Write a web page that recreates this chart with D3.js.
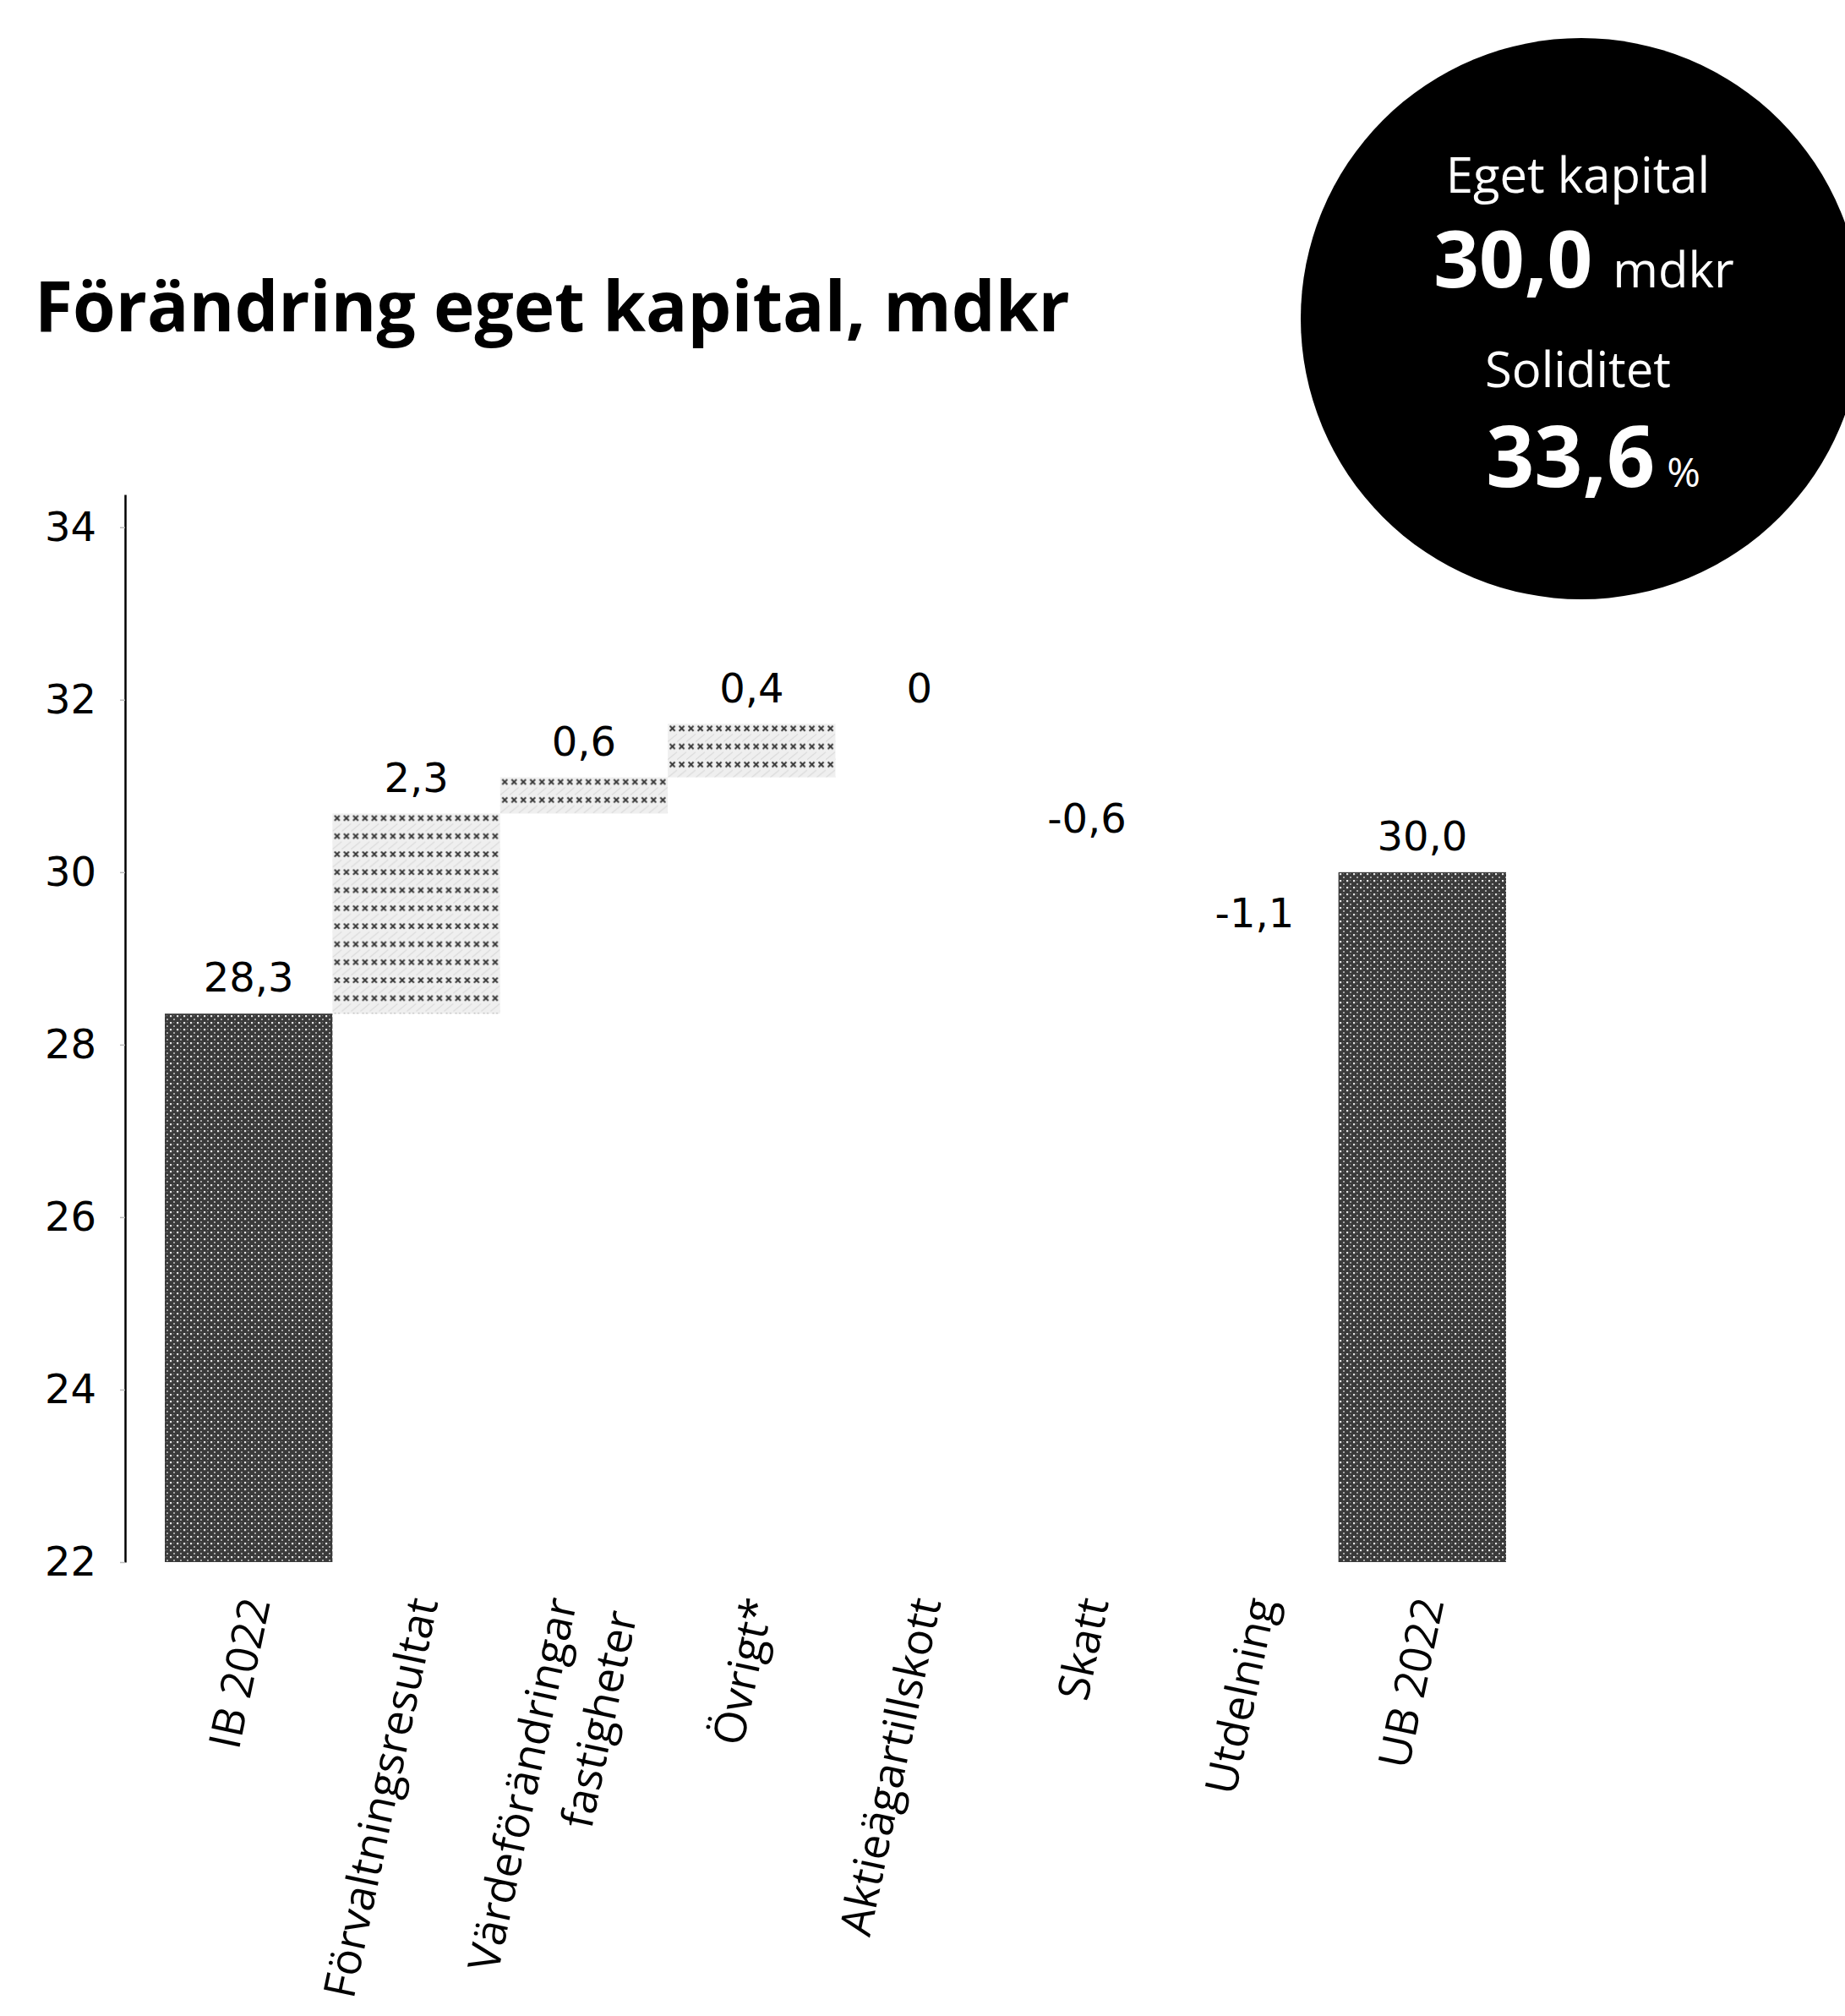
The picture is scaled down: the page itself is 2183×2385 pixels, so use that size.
<!DOCTYPE html>
<html>
<head>
<meta charset="utf-8">
<script src="https://cdn.jsdelivr.net/npm/d3@7"></script>
<style>
  html, body { margin: 0; padding: 0; background: #ffffff; }
  svg { display: block; }
</style>
</head>
<body>
<div id="chart"></div>
<script>
// ---- data ----
const categories = ["IB 2022", "Förvaltningsresultat", "Värdeförändringar|fastigheter", "Övrigt*", "Aktieägartillskott", "Skatt", "Utdelning", "UB 2022"];
const barValues = [28.36, 2.32, 0.42, 0.62, 0, -0.6, -1.1, 30.0];
const barKinds = ["total", "up", "up", "up", "up", "down", "down", "total"];
const valueLabels = ["28,3", "2,3", "0,6", "0,4", "0", "-0,6", "-1,1", "30,0"];
const yTicks = [22, 24, 26, 28, 30, 32, 34];
const yTickLabels = ["22", "24", "26", "28", "30", "32", "34"];
const titleText = "Förändring eget kapital, mdkr";
const badgeLines = { label1: "Eget kapital", value1: "30,0", unit1: "mdkr", label2: "Soliditet", value2: "33,6", unit2: "%" };

// ---- layout ----
const W = 2183, H = 2385;
const svg = d3.select("#chart").append("svg").attr("width", W).attr("height", H);

const y = d3.scaleLinear().domain([22, 34.38]).range([1848, 585]);
const x = d3.scaleBand().domain(categories).range([195, 1782]).padding(0);

// waterfall extents
let run = 0;
const bars = categories.map((c, i) => {
  const v = barValues[i];
  let lo, hi;
  if (barKinds[i] === "total") { lo = 22; hi = v; run = v; }
  else { const s = run; run = run + v; lo = Math.min(s, run); hi = Math.max(s, run); }
  return { cat: c, v, kind: barKinds[i], lo, hi, label: valueLabels[i], i };
});

// ---- patterns ----
const defs = svg.append("defs");
const dark = defs.append("pattern").attr("id", "darkPat").attr("patternUnits", "userSpaceOnUse")
  .attr("width", 8).attr("height", 8);
dark.append("rect").attr("width", 8).attr("height", 8).attr("fill", "#3a3a3a");
dark.append("rect").attr("x", 1).attr("y", 1).attr("width", 2.2).attr("height", 2.2).attr("fill", "#e6e6e6");
dark.append("rect").attr("x", 5).attr("y", 5).attr("width", 2).attr("height", 2).attr("fill", "#a8a8a8");
dark.append("rect").attr("x", 5).attr("y", 1).attr("width", 1.2).attr("height", 1.2).attr("fill", "#777");

bars.filter(b => b.kind === "up").forEach(b => {
  const p = defs.append("pattern").attr("id", "lightPat" + b.i).attr("patternUnits", "userSpaceOnUse")
    .attr("x", x(b.cat)).attr("y", y(b.hi)).attr("width", 11).attr("height", 21.3);
  p.append("rect").attr("width", 11).attr("height", 21.3).attr("fill", "#efefef");
  p.append("path").attr("d", "M0,21 L11,12").attr("stroke", "#d6d6d6").attr("stroke-width", 1);
  p.append("path").attr("d", "M2.5,2.5 L8.5,8.5 M8.5,2.5 L2.5,8.5").attr("stroke", "#3a3a3a").attr("stroke-width", 2);
});

// ---- title ----
svg.append("text").attr("x", 41).attr("y", 392)
  .attr("font-family", "'Open Sans', sans-serif").attr("font-weight", 700).attr("font-size", 82)
  .attr("fill", "#000").text(titleText);

// ---- badge circle ----
const cx = 1871, cy = 377;
svg.append("circle").attr("cx", cx).attr("cy", cy).attr("r", 332).attr("fill", "#000");
const bf = "'Open Sans', sans-serif";
svg.append("text").attr("x", 1867).attr("y", 228).attr("text-anchor", "middle")
  .attr("font-family", bf).attr("font-size", 58).attr("fill", "#fff").text(badgeLines.label1);
const t1 = svg.append("text").attr("x", 1874).attr("y", 340).attr("text-anchor", "middle")
  .attr("font-family", bf).attr("fill", "#fff");
t1.append("tspan").attr("font-weight", 700).attr("font-size", 94).text(badgeLines.value1);
t1.append("tspan").attr("font-size", 58).attr("dx", 24).text(badgeLines.unit1);
svg.append("text").attr("x", 1867).attr("y", 458).attr("text-anchor", "middle")
  .attr("font-family", bf).attr("font-size", 58).attr("fill", "#fff").text(badgeLines.label2);
const t2 = svg.append("text").attr("x", 1885).attr("y", 576).attr("text-anchor", "middle")
  .attr("font-family", bf).attr("fill", "#fff");
t2.append("tspan").attr("font-weight", 700).attr("font-size", 100).text(badgeLines.value2);
t2.append("tspan").attr("font-size", 48).attr("dx", 14).text(badgeLines.unit2);

// ---- y axis ----
const yAxis = d3.axisLeft(y).tickValues(yTicks).tickFormat((d, i) => yTickLabels[i])
  .tickSize(6).tickSizeOuter(0).tickPadding(28);
const gy = svg.append("g").attr("transform", "translate(148,0)").call(yAxis);
gy.select(".domain").attr("stroke", "#000").attr("stroke-width", 2.5);
gy.selectAll(".tick line").attr("stroke", "#bbb").attr("stroke-width", 1.5);
gy.selectAll(".tick text").attr("font-family", "'DejaVu Sans', sans-serif").attr("font-size", 48).attr("fill", "#000");

// ---- bars ----
svg.append("g").selectAll("rect").data(bars).join("rect")
  .attr("x", d => x(d.cat))
  .attr("width", x.bandwidth())
  .attr("y", d => y(d.hi))
  .attr("height", d => Math.max(0, y(d.lo) - y(d.hi)))
  .attr("fill", d => d.kind === "total" ? "url(#darkPat)" : d.kind === "up" ? `url(#lightPat${d.i})` : "#ffffff");

// ---- value labels ----
svg.append("g").selectAll("text").data(bars).join("text")
  .attr("x", d => x(d.cat) + x.bandwidth() / 2)
  .attr("y", d => d.kind === "down" ? y(d.lo) + 50 : y(d.hi) - 43)
  .attr("dy", "0.36em")
  .attr("text-anchor", "middle")
  .attr("font-family", "'DejaVu Sans', sans-serif").attr("font-size", 48).attr("fill", "#000")
  .text(d => d.label);

// ---- category labels (rotated) ----
const gx = svg.append("g");
categories.forEach(c => {
  const lines = c.split("|");
  const cxp = x(c) + x.bandwidth() / 2 + 8 - (lines.length - 1) * 34;
  const t = gx.append("text")
    .attr("transform", `translate(${cxp},1891) rotate(-78)`)
    .attr("text-anchor", "end")
    .attr("font-family", "'Open Sans', sans-serif").attr("font-size", 52).attr("fill", "#000");
  lines.forEach((ln, k) => {
    t.append("tspan").attr("x", 0).attr("dy", k === 0 ? "0.35em" : "1.4em").text(ln);
  });
});
</script>
</body>
</html>
